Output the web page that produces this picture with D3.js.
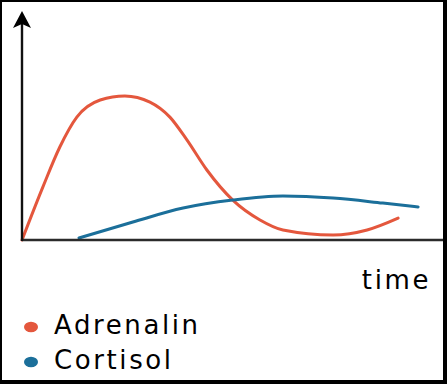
<!doctype html>
<html lang="en">
<head>
<meta charset="utf-8">
<title>Adrenalin and cortisol</title>
<script src="https://cdnjs.cloudflare.com/ajax/libs/d3/7.8.5/d3.min.js"></script>
<style>
	html, body { margin: 0; padding: 0; background: #fff; }
	svg { display: block; }
</style>
</head>
<body>
<div id="chart"></div>
<script>
/* data */
var adrenalinTime  = [0, 4.9, 8.9, 12.9, 18.4, 24.2, 30.1, 34.8, 38.8, 43.5, 49.6, 56, 61.4, 73.2, 81.2, 88.5];
var adrenalinLevel = [0, 23.2, 40.8, 53.9, 61.4, 63.2, 60.5, 53.9, 43.9, 30.7, 17.5, 8.8, 4.4, 2.2, 4.4, 9.6];
var cortisolTime   = [13.4, 26.1, 37.9, 49.6, 61.4, 73.2, 84.9, 93.2];
var cortisolLevel  = [0.9, 7.9, 14, 17.5, 19.3, 18.4, 16.2, 14.5];
var seriesNames    = ['Adrenalin', 'Cortisol'];
var seriesColors   = ['#e4573d', '#1b6f9a'];
var axisLabel      = 'time';

/* view */
var size = { width: 447, height: 384 };
var plot = { left: 22, right: 447, top: 12, bottom: 240 };
var font = '"DejaVu Sans", sans-serif';

var svg = d3.select('#chart').append('svg')
	.attr('width', size.width)
	.attr('height', size.height);

// frame: black behind, white inside
svg.append('rect')
	.attr('width', size.width).attr('height', size.height)
	.style('fill', '#000');
svg.append('rect')
	.attr('x', 2).attr('y', 2)
	.attr('width', size.width - 6).attr('height', size.height - 6)
	.style('fill', '#fff');

var x = d3.scaleLinear().domain([0, 100]).range([plot.left, plot.right]);
var y = d3.scaleLinear().domain([0, 100]).range([plot.bottom, plot.top]);

var line = d3.line()
	.x(function(d){ return x(d[0]); })
	.y(function(d){ return y(d[1]); })
	.curve(d3.curveMonotoneX);

var series = [
	d3.zip(adrenalinTime, adrenalinLevel),
	d3.zip(cortisolTime, cortisolLevel)
];

// curves
svg.selectAll('path.series')
	.data(series)
	.enter().append('path')
	.attr('class', 'series')
	.attr('d', line)
	.style('fill', 'none')
	.style('stroke', function(d, i){ return seriesColors[i]; })
	.style('stroke-width', 3)
	.style('stroke-linecap', 'round');

// axes
svg.append('line')
	.attr('x1', plot.left).attr('y1', plot.bottom)
	.attr('x2', size.width - 4).attr('y2', plot.bottom)
	.style('stroke', '#2b2b2b').style('stroke-width', 2.4);
svg.append('line')
	.attr('x1', plot.left).attr('y1', plot.bottom + 1)
	.attr('x2', plot.left).attr('y2', plot.top + 12)
	.style('stroke', '#111').style('stroke-width', 2.4);
svg.append('path')
	.attr('d', 'M' + plot.left + ',' + (plot.top - 1) +
		' L' + (plot.left + 9) + ',' + (plot.top + 16) +
		' L' + plot.left + ',' + (plot.top + 12) +
		' L' + (plot.left - 9) + ',' + (plot.top + 16) + ' Z')
	.style('fill', '#000');

svg.append('text')
	.attr('x', 431).attr('y', 289)
	.attr('text-anchor', 'end')
	.style('font-family', font)
	.style('font-size', '26px')
	.style('letter-spacing', '2.6px')
	.style('fill', '#000')
	.text(axisLabel);

// legend
var legend = svg.selectAll('g.legend')
	.data(seriesNames)
	.enter().append('g')
	.attr('class', 'legend')
	.attr('transform', function(d, i){ return 'translate(31,' + (327 + i * 35) + ')'; });
legend.append('ellipse')
	.attr('rx', 7).attr('ry', 5.2)
	.style('fill', function(d, i){ return seriesColors[i]; });
legend.append('text')
	.attr('x', 23).attr('y', 6.5)
	.style('font-family', font)
	.style('font-size', '26px')
	.style('letter-spacing', '2.6px')
	.style('fill', '#000')
	.text(function(d){ return d; });
</script>
</body>
</html>
